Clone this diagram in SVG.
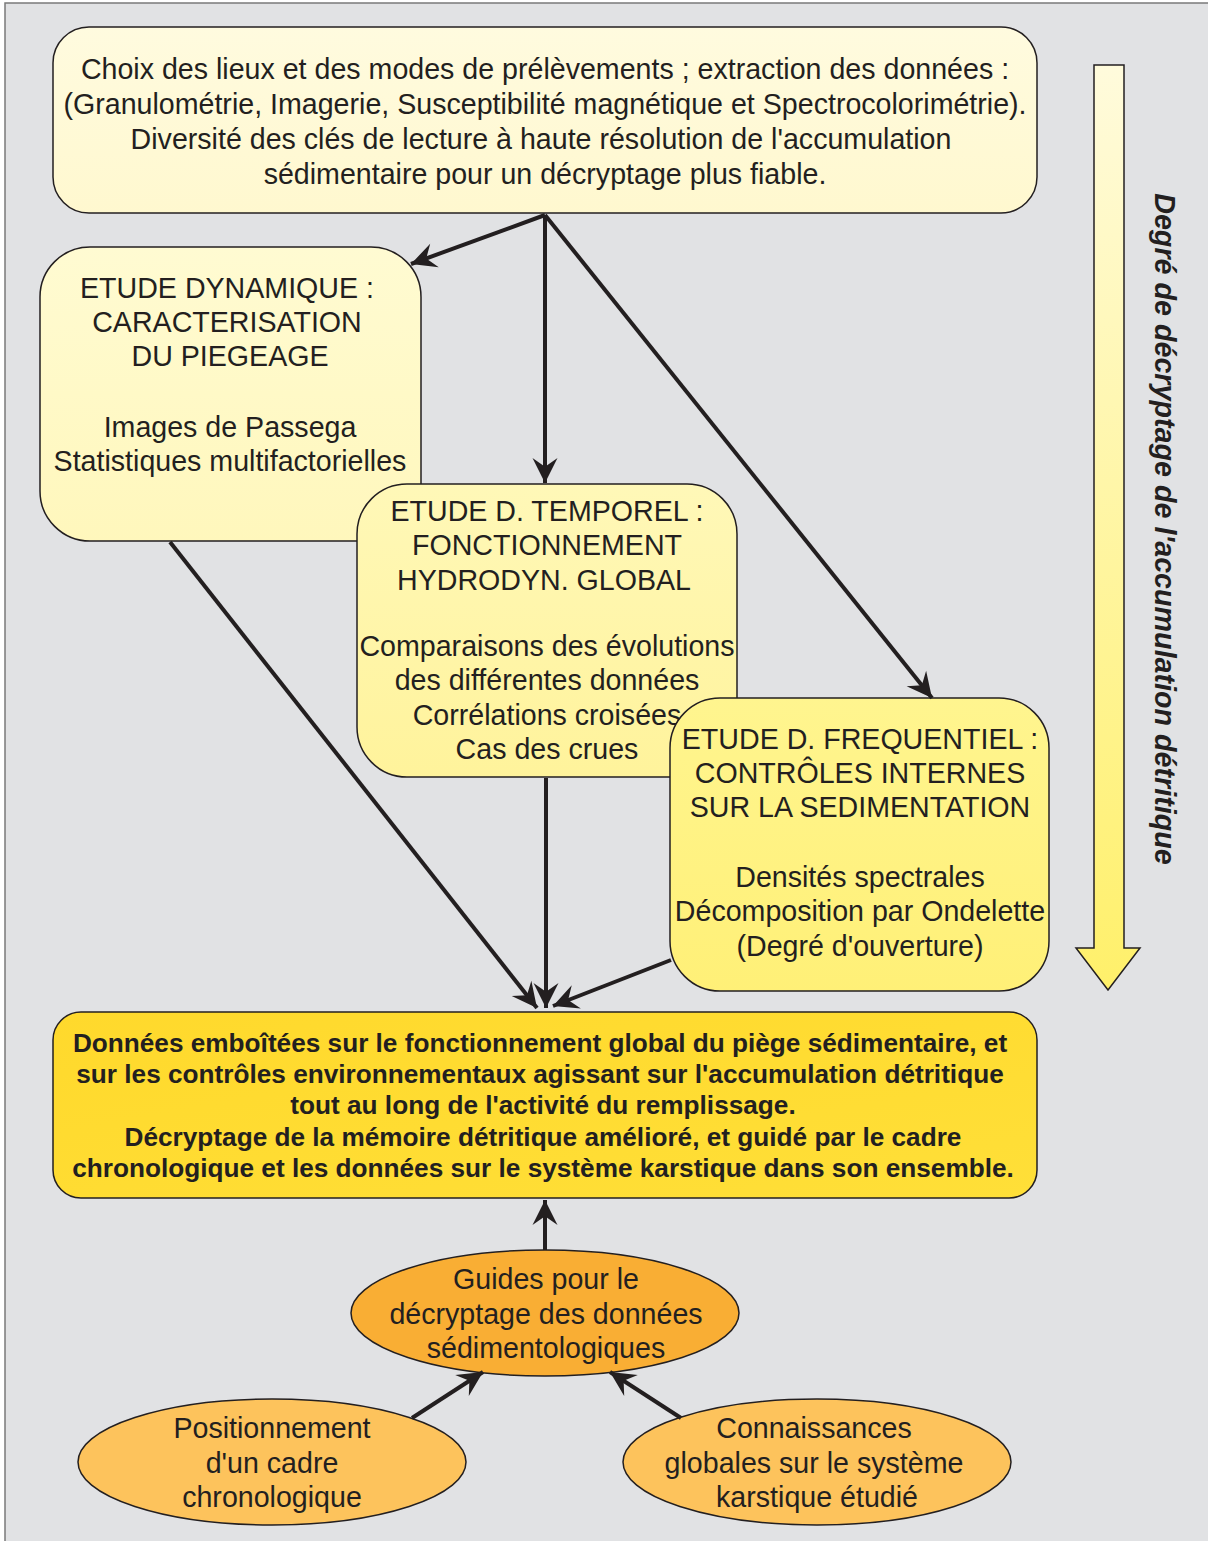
<svg xmlns="http://www.w3.org/2000/svg" width="1208" height="1541" viewBox="0 0 1208 1541">
<style>
.t{font-family:"Liberation Sans",Arial,sans-serif;font-size:28.6px;fill:#231f20;text-anchor:middle}
.b{font-family:"Liberation Sans",Arial,sans-serif;font-size:26.2px;font-weight:bold;fill:#231f20;text-anchor:middle}
.v{font-family:"Liberation Sans",Arial,sans-serif;font-size:28.7px;font-weight:bold;font-style:italic;fill:#231f20;text-anchor:middle}
.box{stroke:#231f20;stroke-width:1.5}
.c{stroke:#231f20;stroke-width:4;fill:none;marker-end:url(#ah)}
</style>
<defs>
<marker id="ah" markerUnits="userSpaceOnUse" markerWidth="30" markerHeight="30" viewBox="-22 -12 24 24" refX="0" refY="0" orient="auto">
<path d="M0,0 L-20,-10 L-13,0 L-20,10 Z" fill="#231f20"/>
</marker>
<linearGradient id="g0" x1="0" y1="0" x2="0" y2="1"><stop offset="0" stop-color="#fffbdf"/><stop offset="1" stop-color="#fff8cf"/></linearGradient>
<linearGradient id="g1" x1="0" y1="0" x2="0" y2="1"><stop offset="0" stop-color="#fffbd2"/><stop offset="1" stop-color="#fff7bc"/></linearGradient>
<linearGradient id="g2" x1="0" y1="0" x2="0" y2="1"><stop offset="0" stop-color="#fff8b8"/><stop offset="1" stop-color="#fff39b"/></linearGradient>
<linearGradient id="g3" x1="0" y1="0" x2="0" y2="1"><stop offset="0" stop-color="#fff58f"/><stop offset="1" stop-color="#fff077"/></linearGradient>
<linearGradient id="g4" x1="0" y1="0" x2="1" y2="1"><stop offset="0" stop-color="#ffd92c"/><stop offset="1" stop-color="#ffdf38"/></linearGradient>
<linearGradient id="ga" x1="0" y1="0" x2="0" y2="1"><stop offset="0" stop-color="#fffbdc"/><stop offset="1" stop-color="#fff06a"/></linearGradient>
</defs>
<rect x="5" y="3" width="1215" height="1550" fill="#e1e2e4" stroke="#7a7a7a" stroke-width="1.5"/>

<g id="arrow-degre">
<polygon points="1094,65 1124,65 1124,948 1140,948 1108,990 1076,948 1094,948" fill="url(#ga)" stroke="#231f20" stroke-width="1.5"/>
<text class="v" transform="translate(1155,529) rotate(90)">Degré de décryptage de l'accumulation détritique</text>
</g>

<g id="n-top">
<rect class="box" x="53" y="27" width="984" height="186" rx="36" fill="url(#g0)"/>
<text class="t" x="545" y="79">Choix des lieux et des modes de prélèvements ; extraction des données :</text>
<text class="t" x="545" y="114">(Granulométrie, Imagerie, Susceptibilité magnétique et Spectrocolorimétrie).</text>
<text class="t" x="541" y="149">Diversité des clés de lecture à haute résolution de l'accumulation</text>
<text class="t" x="545" y="184">sédimentaire pour un décryptage plus fiable.</text>
</g>

<g id="n-dyn">
<rect class="box" x="40" y="247" width="381" height="294" rx="50" fill="url(#g1)"/>
<text class="t" x="227" y="298">ETUDE DYNAMIQUE :</text>
<text class="t" x="227" y="332">CARACTERISATION</text>
<text class="t" x="230" y="366">DU PIEGEAGE</text>
<text class="t" x="230" y="437">Images de Passega</text>
<text class="t" x="230" y="471">Statistiques multifactorielles</text>
</g>

<g id="n-temp">
<rect class="box" x="357" y="484" width="380" height="293" rx="50" fill="url(#g2)"/>
<text class="t" x="547" y="521">ETUDE D. TEMPOREL :</text>
<text class="t" x="547" y="555">FONCTIONNEMENT</text>
<text class="t" x="544" y="590">HYDRODYN. GLOBAL</text>
<text class="t" x="547" y="656">Comparaisons des évolutions</text>
<text class="t" x="547" y="690">des différentes données</text>
<text class="t" x="547" y="725">Corrélations croisées</text>
<text class="t" x="547" y="759">Cas des crues</text>
</g>

<g id="n-freq">
<rect class="box" x="670" y="698" width="379" height="293" rx="50" fill="url(#g3)"/>
<text class="t" x="860" y="749">ETUDE D. FREQUENTIEL :</text>
<text class="t" x="860" y="783">CONTRÔLES INTERNES</text>
<text class="t" x="860" y="817">SUR LA SEDIMENTATION</text>
<text class="t" x="860" y="887">Densités spectrales</text>
<text class="t" x="860" y="921">Décomposition par Ondelette</text>
<text class="t" x="860" y="956">(Degré d'ouverture)</text>
</g>

<g id="n-bottom">
<rect class="box" x="53" y="1012" width="984" height="186" rx="28" fill="url(#g4)"/>
<text class="b" x="540" y="1052">Données emboîtées sur le fonctionnement global du piège sédimentaire, et</text>
<text class="b" x="540" y="1083">sur les contrôles environnementaux agissant sur l'accumulation détritique</text>
<text class="b" x="543" y="1114">tout au long de l'activité du remplissage.</text>
<text class="b" x="543" y="1146">Décryptage de la mémoire détritique amélioré, et guidé par le cadre</text>
<text class="b" x="543" y="1177">chronologique et les données sur le système karstique dans son ensemble.</text>
</g>

<g id="n-guides">
<ellipse class="box" cx="545" cy="1313" rx="194" ry="63" fill="#f9ae34"/>
<text class="t" x="546" y="1289">Guides pour le</text>
<text class="t" x="546" y="1324">décryptage des données</text>
<text class="t" x="546" y="1358">sédimentologiques</text>
</g>

<g id="n-chrono">
<ellipse class="box" cx="272" cy="1462" rx="194" ry="63" fill="#fdc35c"/>
<text class="t" x="272" y="1438">Positionnement</text>
<text class="t" x="272" y="1473">d'un cadre</text>
<text class="t" x="272" y="1507">chronologique</text>
</g>

<g id="n-karst">
<ellipse class="box" cx="817" cy="1462" rx="194" ry="63" fill="#fdc35c"/>
<text class="t" x="814" y="1438">Connaissances</text>
<text class="t" x="814" y="1473">globales sur le système</text>
<text class="t" x="817" y="1507">karstique étudié</text>
</g>

<g id="connectors">
<line class="c" x1="545" y1="215" x2="411" y2="264"/>
<line class="c" x1="545" y1="215" x2="545" y2="483"/>
<line class="c" x1="545" y1="215" x2="932" y2="698"/>
<line class="c" x1="170" y1="542" x2="537" y2="1008"/>
<line class="c" x1="546" y1="778" x2="546" y2="1008"/>
<line class="c" x1="671" y1="960" x2="553" y2="1006"/>
<line class="c" x1="545" y1="1250" x2="545" y2="1200"/>
<line class="c" x1="412" y1="1418" x2="483" y2="1372"/>
<line class="c" x1="681" y1="1418" x2="610" y2="1372"/>
</g>
</svg>
